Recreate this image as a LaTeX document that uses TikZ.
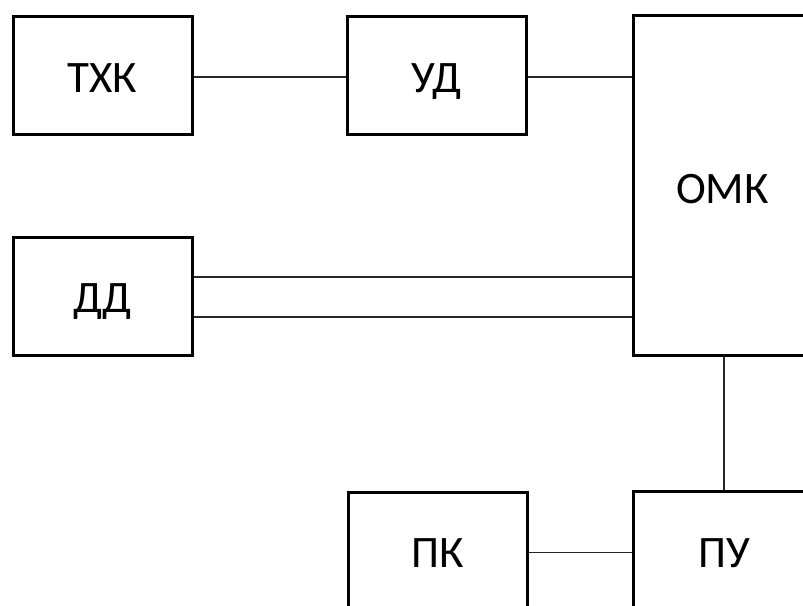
\documentclass[tikz,border=0pt]{standalone}
\usepackage{fontspec}
\setmainfont{Carlito}
\begin{document}
\begin{tikzpicture}[x=1pt,y=-1pt,
  blk/.style={draw=black,line width=3pt,minimum width=179pt,minimum height=118pt,inner sep=0pt},
  lbl/.style={anchor=base,inner sep=0pt,font=\fontsize{45}{54}\selectfont},
  wire/.style={draw=black!85,line width=1.4pt}]
\useasboundingbox (0,0) rectangle (803,605);
\clip (0,0) rectangle (803,605);
\node[blk] (txk) at (102.5,75.5) {};
\node[blk] (ud) at (436.5,75.5) {};
\node[blk,minimum height=340pt] (omk) at (722.5,185.5) {};
\node[blk] (dd) at (102.5,296.5) {};
\node[blk] (pk) at (437.5,551) {};
\node[blk] (pu) at (722.5,550) {};
\node[lbl] (txkl) at (102.5,92) {ТХК};
\node[lbl] (udl) at (436.5,92) {УД};
\node[lbl] (omkl) at (722.5,203) {ОМК};
\node[lbl] (ddl) at (102.5,312.5) {ДД};
\node[lbl] (pkl) at (438,567) {ПК};
\node[lbl] (pul) at (724,567) {ПУ};
\draw[wire] ([yshift=-1.5pt]txk.east) -- ([yshift=-1.5pt]ud.west);
\draw[wire] ([yshift=-1.5pt]ud.east) -- ([yshift=-1.5pt]ud.east -| omk.west);
\draw[wire] ([yshift=19.5pt]dd.east) -- ([yshift=19.5pt]dd.east -| omk.west);
\draw[wire] ([yshift=-20.5pt]dd.east) -- ([yshift=-20.5pt]dd.east -| omk.west);
\draw[wire] ([xshift=1.5pt]omk.south) -- ([xshift=1.5pt]pu.north);
\draw[wire] ([yshift=-1.5pt]pk.east) -- ([yshift=-1.5pt]pk.east -| pu.west);
\end{tikzpicture}
\end{document}
